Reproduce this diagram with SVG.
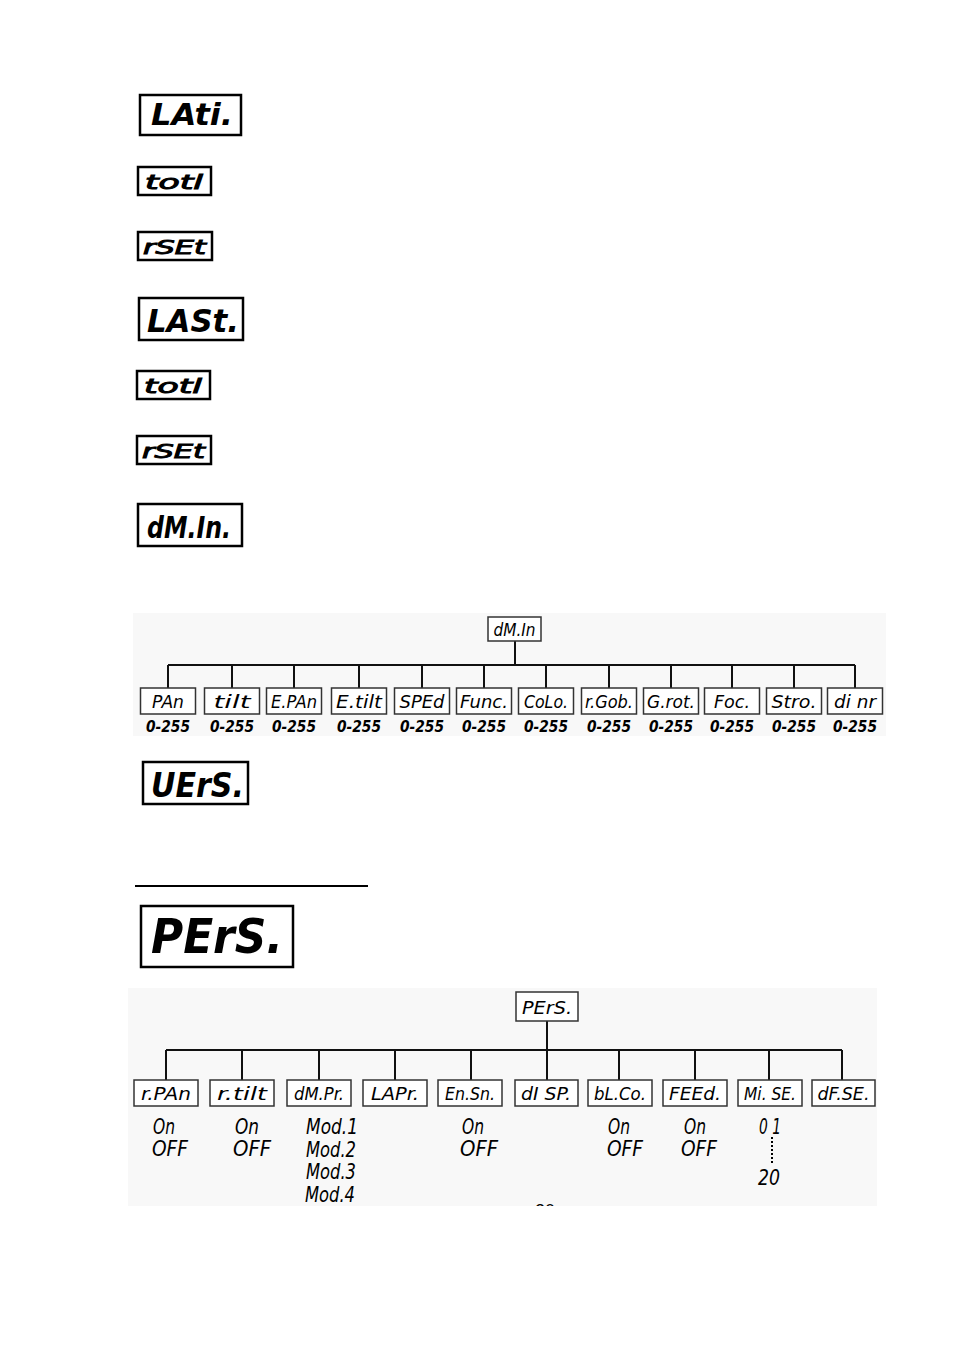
<svg xmlns="http://www.w3.org/2000/svg" width="954" height="1350" viewBox="0 0 954 1350">
<style>
.bg{fill:#ffffff}
.panel{fill:#f8f8f8;stroke:none}
.big{fill:#ffffff;stroke:#000;stroke-width:2.5}
.box{fill:#ffffff;stroke:#333;stroke-width:1.5}
.seg{font-family:"DejaVu Sans Condensed","DejaVu Sans",sans-serif;font-style:italic;fill:#000}
.bigt{font-weight:bold}
.mid{stroke:#000;stroke-width:0.9}
.lbl{font-size:18px}
.val{font-size:15px;font-weight:bold;text-anchor:middle}
.sub{font-size:21px}
.wire{fill:none;stroke:#111;stroke-width:2}
</style>
<defs>
<clipPath id="pageclip"><rect x="0" y="0" width="954" height="1206"/></clipPath>
</defs>
<rect class="bg" x="0" y="0" width="954" height="1350"/>

<g id="n-lati"><rect class="big" x="140" y="95" width="101" height="40"/><text class="seg bigt" x="151" y="125" font-size="30" textLength="82" lengthAdjust="spacingAndGlyphs">LAti.</text></g>
<g id="n-totl1"><rect class="big" x="138" y="167" width="73" height="28"/><text class="seg mid" x="145" y="189" font-size="20" textLength="58" lengthAdjust="spacingAndGlyphs">totl</text></g>
<g id="n-rset1"><rect class="big" x="138" y="232" width="74" height="28"/><text class="seg mid" x="143" y="254" font-size="20" textLength="63" lengthAdjust="spacingAndGlyphs">rSEt</text></g>
<g id="n-last"><rect class="big" x="139" y="298" width="104" height="42"/><text class="seg bigt" x="147" y="332" font-size="32" textLength="92" lengthAdjust="spacingAndGlyphs">LASt.</text></g>
<g id="n-totl2"><rect class="big" x="137" y="371" width="73" height="28"/><text class="seg mid" x="144" y="393" font-size="20" textLength="58" lengthAdjust="spacingAndGlyphs">totl</text></g>
<g id="n-rset2"><rect class="big" x="137" y="436" width="74" height="28"/><text class="seg mid" x="142" y="458" font-size="20" textLength="63" lengthAdjust="spacingAndGlyphs">rSEt</text></g>
<g id="n-dmin"><rect class="big" x="138" y="504" width="104" height="42"/><text class="seg bigt" x="147" y="538" font-size="30" textLength="84" lengthAdjust="spacingAndGlyphs">dM.In.</text></g>

<rect class="panel" x="133" y="613" width="753" height="123"/>
<g id="connectors-dmin">
<path class="wire" d="M515 641V665M168 665H855M168 665V688M232 665V688M294 665V688M359 665V688M422 665V688M484 665V688M546 665V688M609 665V688M671 665V688M732 665V688M794 665V688M855 665V688"/>
</g>
<g id="n-dmin-root"><rect class="box" x="488" y="617" width="53" height="24"/><text class="seg lbl" x="514.5" y="636" text-anchor="middle" font-size="17" textLength="42" lengthAdjust="spacingAndGlyphs">dM.In</text></g>
<g id="n-pan"><rect class="box" x="140.5" y="688" width="55" height="26"/><text class="seg lbl" x="168" y="708" text-anchor="middle" textLength="32" lengthAdjust="spacingAndGlyphs">PAn</text><text class="seg val" x="168" y="732" textLength="44" lengthAdjust="spacingAndGlyphs">0-255</text></g>
<g id="n-tilt"><rect class="box" x="204.5" y="688" width="55" height="26"/><text class="seg lbl" x="232" y="708" text-anchor="middle" textLength="37" lengthAdjust="spacingAndGlyphs">tilt</text><text class="seg val" x="232" y="732" textLength="44" lengthAdjust="spacingAndGlyphs">0-255</text></g>
<g id="n-epan"><rect class="box" x="266.5" y="688" width="55" height="26"/><text class="seg lbl" x="294" y="708" text-anchor="middle" textLength="46" lengthAdjust="spacingAndGlyphs">E.PAn</text><text class="seg val" x="294" y="732" textLength="44" lengthAdjust="spacingAndGlyphs">0-255</text></g>
<g id="n-etilt"><rect class="box" x="331.5" y="688" width="55" height="26"/><text class="seg lbl" x="359" y="708" text-anchor="middle" textLength="46" lengthAdjust="spacingAndGlyphs">E.tilt</text><text class="seg val" x="359" y="732" textLength="44" lengthAdjust="spacingAndGlyphs">0-255</text></g>
<g id="n-sped"><rect class="box" x="394.5" y="688" width="55" height="26"/><text class="seg lbl" x="422" y="708" text-anchor="middle" textLength="45" lengthAdjust="spacingAndGlyphs">SPEd</text><text class="seg val" x="422" y="732" textLength="44" lengthAdjust="spacingAndGlyphs">0-255</text></g>
<g id="n-func"><rect class="box" x="456.5" y="688" width="55" height="26"/><text class="seg lbl" x="484" y="708" text-anchor="middle" textLength="48" lengthAdjust="spacingAndGlyphs">Func.</text><text class="seg val" x="484" y="732" textLength="44" lengthAdjust="spacingAndGlyphs">0-255</text></g>
<g id="n-colo"><rect class="box" x="518.5" y="688" width="55" height="26"/><text class="seg lbl" x="546" y="708" text-anchor="middle" textLength="44" lengthAdjust="spacingAndGlyphs">CoLo.</text><text class="seg val" x="546" y="732" textLength="44" lengthAdjust="spacingAndGlyphs">0-255</text></g>
<g id="n-rgob"><rect class="box" x="581.5" y="688" width="55" height="26"/><text class="seg lbl" x="609" y="708" text-anchor="middle" textLength="48" lengthAdjust="spacingAndGlyphs">r.Gob.</text><text class="seg val" x="609" y="732" textLength="44" lengthAdjust="spacingAndGlyphs">0-255</text></g>
<g id="n-grot"><rect class="box" x="643.5" y="688" width="55" height="26"/><text class="seg lbl" x="671" y="708" text-anchor="middle" textLength="48" lengthAdjust="spacingAndGlyphs">G.rot.</text><text class="seg val" x="671" y="732" textLength="44" lengthAdjust="spacingAndGlyphs">0-255</text></g>
<g id="n-foc"><rect class="box" x="704.5" y="688" width="55" height="26"/><text class="seg lbl" x="732" y="708" text-anchor="middle" textLength="36" lengthAdjust="spacingAndGlyphs">Foc.</text><text class="seg val" x="732" y="732" textLength="44" lengthAdjust="spacingAndGlyphs">0-255</text></g>
<g id="n-stro"><rect class="box" x="766.5" y="688" width="55" height="26"/><text class="seg lbl" x="794" y="708" text-anchor="middle" textLength="45" lengthAdjust="spacingAndGlyphs">Stro.</text><text class="seg val" x="794" y="732" textLength="44" lengthAdjust="spacingAndGlyphs">0-255</text></g>
<g id="n-dinr"><rect class="box" x="827.5" y="688" width="55" height="26"/><text class="seg lbl" x="855" y="708" text-anchor="middle" textLength="42" lengthAdjust="spacingAndGlyphs">di nr</text><text class="seg val" x="855" y="732" textLength="44" lengthAdjust="spacingAndGlyphs">0-255</text></g>

<g id="n-vers"><rect class="big" x="143" y="762" width="105" height="42"/><text class="seg bigt" x="151" y="797" font-size="34" textLength="93" lengthAdjust="spacingAndGlyphs">UErS.</text></g>
<line x1="135" y1="886" x2="368" y2="886" stroke="#000" stroke-width="2"/>
<g id="n-pers"><rect class="big" x="141" y="906" width="152" height="61"/><text class="seg bigt" x="151" y="953" font-size="48" textLength="132" lengthAdjust="spacingAndGlyphs">PErS.</text></g>

<rect class="panel" x="128" y="988" width="749" height="218"/>
<g id="connectors-pers">
<path class="wire" d="M547 1021V1050M166 1050H842M166 1050V1080M242 1050V1080M319 1050V1080M395 1050V1080M471 1050V1080M547 1050V1080M619 1050V1080M695 1050V1080M769 1050V1080M842 1050V1080"/>
<line x1="772" y1="1137" x2="772" y2="1163" stroke="#000" stroke-width="2" stroke-dasharray="2 2"/>
</g>
<g id="n-pers-root"><rect class="box" x="516" y="992" width="62" height="29"/><text class="seg lbl" x="547" y="1014" text-anchor="middle" font-size="19" textLength="50" lengthAdjust="spacingAndGlyphs">PErS.</text></g>
<g id="n-rpan"><rect class="box" x="134" y="1080" width="64" height="26"/><text class="seg lbl" x="166" y="1100" text-anchor="middle" textLength="50" lengthAdjust="spacingAndGlyphs">r.PAn</text><text class="seg sub" x="164" y="1134" text-anchor="middle" textLength="22" lengthAdjust="spacingAndGlyphs">On</text><text class="seg sub" x="170" y="1156" text-anchor="middle" textLength="36" lengthAdjust="spacingAndGlyphs">OFF</text></g>
<g id="n-rtilt"><rect class="box" x="210" y="1080" width="64" height="26"/><text class="seg lbl" x="242" y="1100" text-anchor="middle" textLength="50" lengthAdjust="spacingAndGlyphs">r.tilt</text><text class="seg sub" x="247" y="1134" text-anchor="middle" textLength="24" lengthAdjust="spacingAndGlyphs">On</text><text class="seg sub" x="252" y="1156" text-anchor="middle" textLength="38" lengthAdjust="spacingAndGlyphs">OFF</text></g>
<g id="n-dmpr"><rect class="box" x="287" y="1080" width="64" height="26"/><text class="seg lbl" x="319" y="1100" text-anchor="middle" textLength="50" lengthAdjust="spacingAndGlyphs">dM.Pr.</text>
<text class="seg sub" x="332" y="1134" text-anchor="middle" textLength="52" lengthAdjust="spacingAndGlyphs">Mod.1</text>
<text class="seg sub" x="331" y="1157" text-anchor="middle" textLength="50" lengthAdjust="spacingAndGlyphs">Mod.2</text>
<text class="seg sub" x="331" y="1179" text-anchor="middle" textLength="50" lengthAdjust="spacingAndGlyphs">Mod.3</text>
<text class="seg sub" x="330" y="1202" text-anchor="middle" textLength="50" lengthAdjust="spacingAndGlyphs">Mod.4</text></g>
<g id="n-lapr"><rect class="box" x="363" y="1080" width="64" height="26"/><text class="seg lbl" x="395" y="1100" text-anchor="middle" textLength="48" lengthAdjust="spacingAndGlyphs">LAPr.</text></g>
<g id="n-ensn"><rect class="box" x="438" y="1080" width="64" height="26"/><text class="seg lbl" x="470" y="1100" text-anchor="middle" textLength="50" lengthAdjust="spacingAndGlyphs">En.Sn.</text><text class="seg sub" x="473" y="1134" text-anchor="middle" textLength="22" lengthAdjust="spacingAndGlyphs">On</text><text class="seg sub" x="479" y="1156" text-anchor="middle" textLength="38" lengthAdjust="spacingAndGlyphs">OFF</text></g>
<g id="n-disp"><rect class="box" x="515" y="1080" width="63" height="26"/><text class="seg lbl" x="546" y="1100" text-anchor="middle" textLength="50" lengthAdjust="spacingAndGlyphs">dI SP.</text></g>
<g id="n-blco"><rect class="box" x="588" y="1080" width="64" height="26"/><text class="seg lbl" x="620" y="1100" text-anchor="middle" textLength="52" lengthAdjust="spacingAndGlyphs">bL.Co.</text><text class="seg sub" x="619" y="1134" text-anchor="middle" textLength="22" lengthAdjust="spacingAndGlyphs">On</text><text class="seg sub" x="625" y="1156" text-anchor="middle" textLength="36" lengthAdjust="spacingAndGlyphs">OFF</text></g>
<g id="n-feed"><rect class="box" x="663" y="1080" width="64" height="26"/><text class="seg lbl" x="695" y="1100" text-anchor="middle" textLength="52" lengthAdjust="spacingAndGlyphs">FEEd.</text><text class="seg sub" x="695" y="1134" text-anchor="middle" textLength="22" lengthAdjust="spacingAndGlyphs">On</text><text class="seg sub" x="699" y="1156" text-anchor="middle" textLength="36" lengthAdjust="spacingAndGlyphs">OFF</text></g>
<g id="n-mise"><rect class="box" x="738" y="1080" width="64" height="26"/><text class="seg lbl" x="770" y="1100" text-anchor="middle" textLength="52" lengthAdjust="spacingAndGlyphs">Mi. SE.</text><text class="seg sub" x="770" y="1134" text-anchor="middle" textLength="22" lengthAdjust="spacingAndGlyphs">0 1</text><text class="seg sub" x="769" y="1185" text-anchor="middle" textLength="22" lengthAdjust="spacingAndGlyphs">20</text></g>
<g id="n-dfse"><rect class="box" x="812" y="1080" width="63" height="26"/><text class="seg lbl" x="843.5" y="1100" text-anchor="middle" textLength="52" lengthAdjust="spacingAndGlyphs">dF.SE.</text></g>

<text clip-path="url(#pageclip)" x="545" y="1217" text-anchor="middle" font-family="Liberation Sans, Arial, sans-serif" font-size="18" fill="#000">20</text>
</svg>
